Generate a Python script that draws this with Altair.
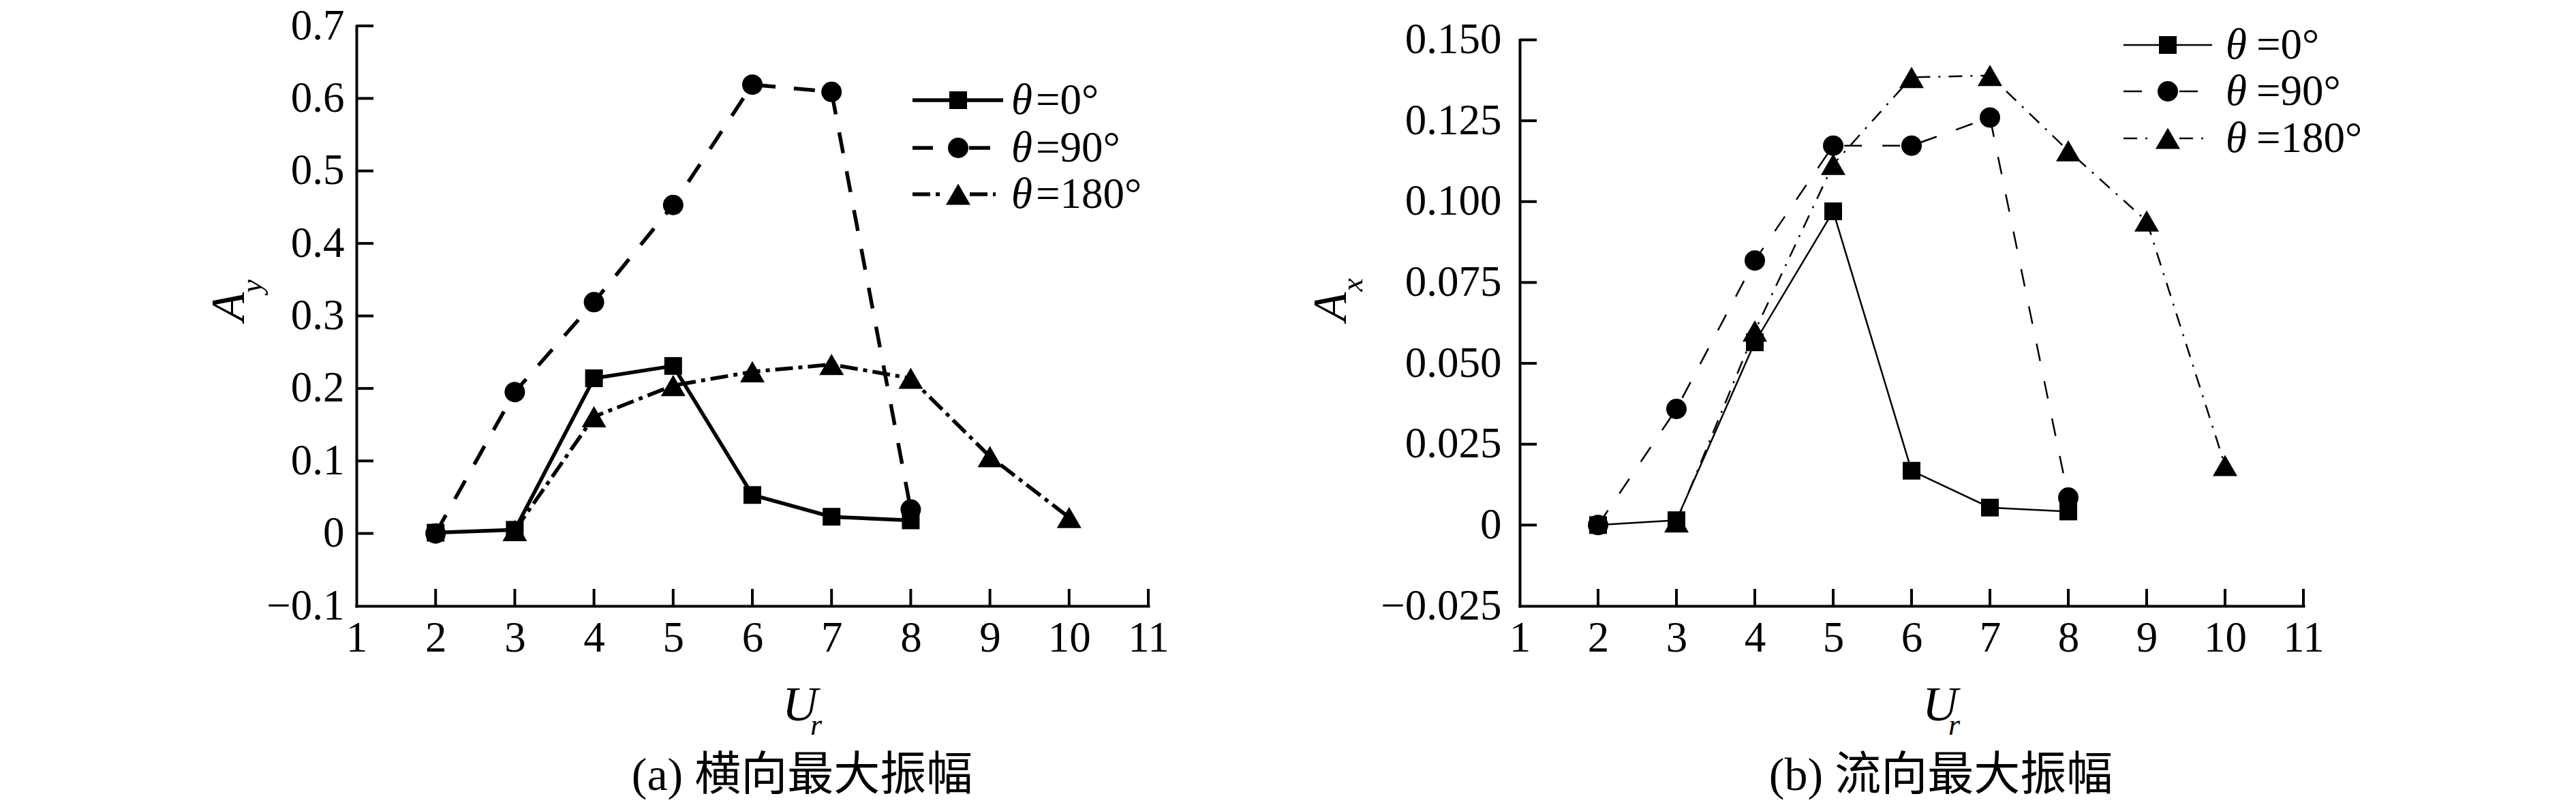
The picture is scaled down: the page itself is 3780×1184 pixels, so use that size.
import altair as alt
import pandas as pd

# ------------------------------------------------------------------ data
UR_0 = [2, 3, 4, 5, 6, 7, 8]
UR_90 = [2, 3, 4, 5, 6, 7, 8]
UR_180 = [3, 4, 5, 6, 7, 8, 9, 10]

# (a) transverse max amplitude A_y
AY_0 = [0.001, 0.005, 0.214, 0.231, 0.053, 0.023, 0.018]
AY_90 = [0.000, 0.195, 0.319, 0.453, 0.619, 0.609, 0.033]
AY_180 = [0.004, 0.161, 0.204, 0.223, 0.233, 0.214, 0.106, 0.022]

# (b) streamwise max amplitude A_x
AX_0 = [0.000, 0.0015, 0.0565, 0.097, 0.0168, 0.0054, 0.0042]
AX_90 = [0.000, 0.0359, 0.0818, 0.1173, 0.1173, 0.126, 0.0085]
AX_180 = [0.001, 0.060, 0.1115, 0.1384, 0.139, 0.1157, 0.094, 0.0184]

X_TICKS = [1, 2, 3, 4, 5, 6, 7, 8, 9, 10, 11]
AY_TICKS = [-0.1, 0.0, 0.1, 0.2, 0.3, 0.4, 0.5, 0.6, 0.7]
AX_TICKS = [-0.025, 0.0, 0.025, 0.05, 0.075, 0.1, 0.125, 0.15]

SERIES_NUM = ["=0°", "=90°", "=180°"]
CAPTIONS = ["(a) 横向最大振幅", "(b) 流向最大振幅"]

# ------------------------------------------------------------------ styles
SERIF = "Liberation Serif"
CAPFONT = "Liberation Serif, Noto Sans CJK SC"
W, H = 3764, 1168
X_AXIS_OFFSET = -287
SHAPES = ["square", "circle", "triangle-up"]
SIZES = [676, 900, 1296]
TICK_LEN = 25
AX_W = 4

DUMMY = alt.Data(values=[{"a": 1}])


def panel(xs_list, ys_list, y_ticks, y_fmt, x_range, y_range, y_offset,
          line_w, dashes, ylab_pad):
    xs = alt.Scale(domain=[1, 11], range=x_range, nice=False, zero=False)
    ys = alt.Scale(domain=[y_ticks[0], y_ticks[-1]], range=y_range,
                   nice=False, zero=False)
    common = dict(grid=False, ticks=False, tickSize=0, domainColor="black",
                  domainWidth=AX_W, domainCap="square", labelFont=SERIF,
                  labelFontSize=63, labelColor="black", labelFlush=False,
                  labelOverlap=False, labelBound=False, title=None)
    xaxis = alt.Axis(orient="bottom", offset=X_AXIS_OFFSET, values=X_TICKS,
                     labelPadding=16, format="d", **common)
    yaxis = alt.Axis(orient="left", offset=y_offset, values=y_ticks,
                     labelPadding=ylab_pad,
                     labelExpr=("datum.value == 0 ? '0' : replace(format(datum.value, '"
                                + y_fmt + "'), '-', '\u2212')"),
                     **common)

    def X(f):
        return alt.X(f"{f}:Q", scale=xs, axis=xaxis, title=None)

    def Y(f):
        return alt.Y(f"{f}:Q", scale=ys, axis=yaxis, title=None)

    dfs = [pd.DataFrame({"ur": u, "a": v}) for u, v in zip(xs_list, ys_list)]
    layers = []
    for i, df in enumerate(dfs):
        kw = dict(color="black", strokeWidth=line_w, strokeCap="butt")
        if dashes[i]:
            kw["strokeDash"] = dashes[i]
        layers.append(alt.Chart(df).mark_line(**kw).encode(x=X("ur"), y=Y("a")))
    for i in [2, 0, 1]:
        layers.append(
            alt.Chart(dfs[i]).mark_point(shape=SHAPES[i], size=SIZES[i], filled=True,
                                         opacity=1, color="black", strokeWidth=0)
            .encode(x=X("ur"), y=Y("a")))
    xt = pd.DataFrame({"t": X_TICKS[1:], "b": [y_ticks[0]] * (len(X_TICKS) - 1)})
    yt = pd.DataFrame({"t": y_ticks[1:], "b": [1] * (len(y_ticks) - 1)})
    layers.append(alt.Chart(xt).mark_tick(orient="vertical", size=TICK_LEN, thickness=AX_W,
                                          yOffset=-TICK_LEN / 2, color="black", opacity=1)
                  .encode(x=X("t"), y=Y("b")))
    layers.append(alt.Chart(yt).mark_tick(orient="horizontal", size=TICK_LEN, thickness=AX_W,
                                          xOffset=TICK_LEN / 2, color="black", opacity=1)
                  .encode(x=X("b"), y=Y("t")))
    return alt.layer(*layers)


left = panel([UR_0, UR_90, UR_180], [AY_0, AY_90, AY_180], AY_TICKS, ".1f",
             [515, 1677], [881, 30], -515, 5.5,
             [None, [31, 27], [26, 8, 6, 8]], 18)
right = panel([UR_0, UR_90, UR_180], [AX_0, AX_90, AX_180], AX_TICKS, ".3f",
              [2222, 3372], [881, 50.5], -2222, 2.5,
              [None, [26, 30], [20, 12, 3, 12]], 27)


def text(txt, x, y, size, italic=False, align="center", angle=0, font=SERIF):
    return alt.Chart(DUMMY).mark_text(
        text=txt, font=font, fontSize=size, fontStyle="italic" if italic else "normal",
        align=align, baseline="alphabetic", angle=angle, color="black"
    ).encode(x=alt.value(x), y=alt.value(y))


def seg(x1, x2, y, width, dash=None):
    kw = dict(color="black", strokeWidth=width, strokeCap="butt")
    if dash:
        kw["strokeDash"] = dash
    return alt.Chart(DUMMY).mark_rule(**kw).encode(
        x=alt.value(x1), x2=alt.value(x2), y=alt.value(y))


def sym(i, x, y):
    return alt.Chart(DUMMY).mark_point(shape=SHAPES[i], size=SIZES[i], filled=True,
                                       opacity=1, color="black", strokeWidth=0).encode(
        x=alt.value(x), y=alt.value(y))


ann = []
# axis titles
ann += [text("A", 350, 442, 70, italic=True, angle=270),
        text("y", 376, 412, 44, italic=True, angle=270),
        text("A", 1967, 442, 70, italic=True, angle=270),
        text("x", 1991, 410, 44, italic=True, angle=270),
        text("U", 1166, 1049, 72, italic=True),
        text("r", 1181, 1070, 44, italic=True, align="left"),
        text("U", 2839, 1049, 72, italic=True),
        text("r", 2851, 1070, 44, italic=True, align="left"),
        text(CAPTIONS[0], 1169, 1151, 68, font=CAPFONT),
        text(CAPTIONS[1], 2840, 1151, 68, font=CAPFONT)]

# legends
LEG = [
    dict(rows=[139, 209, 277], xm=1398, xt=1476, xe=1512, lw=5.5,
         segs=[[(1331, 1464, None)],
               [(1331, 1361, None), (1414, 1445, None)],
               [(1331, 1371, [26, 8, 6, 8]), (1415, 1453, [26, 8, 6, 8])]]),
    dict(rows=[58, 126, 195], xm=3173, xt=3258, xe=3303, lw=2.5,
         segs=[[(3108, 3238, None)],
               [(3108, 3135, None), (3190, 3217, None)],
               [(3108, 3143, [20, 12, 3, 12]), (3190, 3225, [20, 12, 3, 12])]]),
]
for L in LEG:
    for i, ry in enumerate(L["rows"]):
        for (a, b, d) in L["segs"][i]:
            ann.append(seg(a, b, ry, L["lw"], d))
        ann.append(sym(i, L["xm"], ry))
        ann.append(text("θ", L["xt"], ry + 20, 63, italic=True, align="left"))
        ann.append(text(SERIES_NUM[i], L["xe"], ry + 20, 63, align="left"))

chart = alt.layer(left, right, *ann).resolve_scale(
    x="independent", y="independent"
).properties(
    width=W, height=H, padding=0, autosize=alt.AutoSizeParams(type="none"),
    background="white"
).configure_view(stroke=None)

chart.save("out.html", embed_options={"renderer": "svg", "actions": False})
